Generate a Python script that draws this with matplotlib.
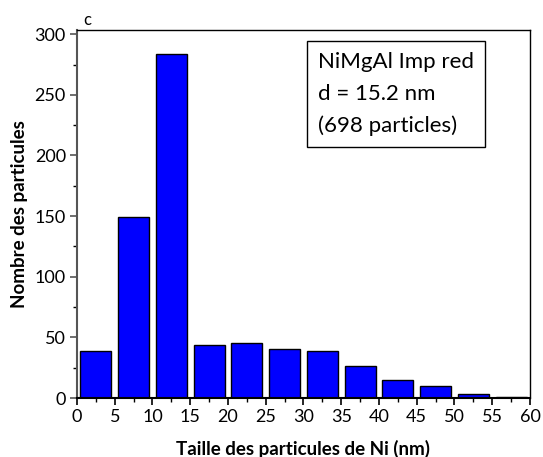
import matplotlib
matplotlib.use("Agg")
import matplotlib.pyplot as plt
from matplotlib.ticker import MultipleLocator

plt.rcParams['font.family'] = ['Lato', 'DejaVu Sans']

bin_centers = [2.5, 7.5, 12.5, 17.5, 22.5, 27.5, 32.5, 37.5, 42.5, 47.5, 52.5, 57.5]
counts = [39, 149, 284, 44, 45, 40, 39, 26, 15, 10, 3, 1]
x_ticks = [0, 5, 10, 15, 20, 25, 30, 35, 40, 45, 50, 55, 60]
y_ticks = [0, 50, 100, 150, 200, 250, 300]

fig = plt.figure(figsize=(5.43, 4.57), dpi=100)
ax = fig.add_axes([0.1418, 0.1291, 0.976 - 0.1418, 0.9344 - 0.1291])

ax.bar(bin_centers, counts, width=4.1, color='#0000FF', edgecolor='#000000', linewidth=1.0)

ax.set_xlim(0, 60)
ax.set_ylim(0, 303.5)
ax.set_xticks(x_ticks)
ax.set_yticks(y_ticks)
ax.xaxis.set_minor_locator(MultipleLocator(2.5))
ax.yaxis.set_minor_locator(MultipleLocator(25))
ax.tick_params(axis='both', which='major', direction='out', length=5, width=1.2, labelsize=13, pad=3)
ax.tick_params(axis='both', which='minor', direction='out', length=3, width=1.0)
ax.tick_params(axis='y', colors='#555555', labelcolor='black')

for side in ['top', 'right', 'bottom']:
    ax.spines[side].set_color('black')
    ax.spines[side].set_linewidth(1.0)
ax.spines['left'].set_color('#555555')
ax.spines['left'].set_linewidth(1.5)
ax.spines['bottom'].set_linewidth(1.5)

ax.set_xlabel('Taille des particules de Ni (nm)', fontsize=13.5, fontweight='bold', labelpad=11)
ax.set_ylabel('Nombre des particules', fontsize=13.5, fontweight='bold', labelpad=5)

fig.text(83 / 543, 1 - 20 / 457, 'c', fontsize=12, ha='left', va='center')

ax.text(0.532, 0.826, 'NiMgAl Imp red\nd = 15.2 nm\n(698 particles)', transform=ax.transAxes,
        fontsize=16, ha='left', va='center', linespacing=1.72,
        bbox=dict(boxstyle='square,pad=0.5', facecolor='white', edgecolor='black', linewidth=1.0))

fig.savefig('out.png', dpi=100)
